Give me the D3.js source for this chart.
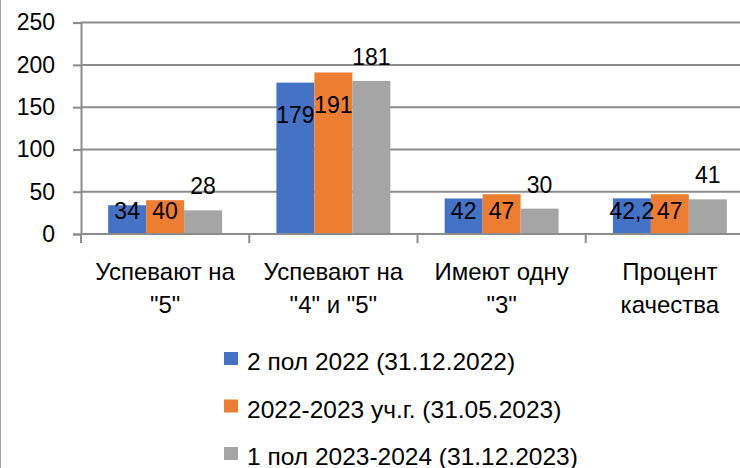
<!DOCTYPE html>
<html>
<head>
<meta charset="utf-8">
<script src="https://cdn.jsdelivr.net/npm/d3@7"></script>
<style>
  html, body { margin: 0; padding: 0; background: #fff; }
  svg text { font-family: "Liberation Sans", Arial, sans-serif; fill: #000; }
</style>
</head>
<body>
<svg id="chart" width="740" height="468"></svg>
<script>
// данные диаграммы
var categories = ['Успевают на\n"5"', 'Успевают на\n"4" и "5"', 'Имеют одну\n"3"', 'Процент\nкачества'];
var seriesNames = ['2 пол 2022 (31.12.2022)', '2022-2023 уч.г. (31.05.2023)', '1 пол 2023-2024 (31.12.2023)'];
var values2022 = [34, 179, 42, 42.2];
var values2023 = [40, 191, 47, 47];
var values2024 = [28, 181, 30, 41];
var yTicks = [0, 50, 100, 150, 200, 250];
var colors = ['#4472C4', '#ED7D31', '#A5A5A5'];

var allValues = [values2022, values2023, values2024];

var svg = d3.select('#chart');
// "top" занято window.top, поэтому другие имена
var plotLeft = 81, plotRight = 754, plotTop = 22.6, plotBottom = 234;
var gridColor = '#8c8c8c';
var fontSize = 23;

// рамка слева
svg.append('line')
  .attr('x1', 0.5).attr('x2', 0.5).attr('y1', 0).attr('y2', 468)
  .attr('stroke', '#a6a6a6').attr('stroke-width', 1);

var y = d3.scaleLinear().domain([0, 250]).range([plotBottom, plotTop]);

var x0 = d3.scaleBand().domain(categories).range([plotLeft, plotRight]).padding(0);
var x1 = d3.scaleBand().domain(d3.range(seriesNames.length))
  .range([0, x0.bandwidth()]).paddingInner(0).paddingOuter(0.715);

// линии сетки
svg.append('g').selectAll('line')
  .data(yTicks)
  .enter().append('line')
  .attr('x1', plotLeft).attr('x2', plotRight)
  .attr('y1', function(d) { return y(d); })
  .attr('y2', function(d) { return y(d); })
  .attr('stroke', gridColor).attr('stroke-width', 2);

// ось Y
var yAxis = svg.append('g')
  .attr('transform', 'translate(' + plotLeft + ',0)')
  .call(d3.axisLeft(y).tickValues(yTicks).tickSize(8).tickPadding(18));
yAxis.select('.domain').attr('stroke', gridColor).attr('stroke-width', 2);
yAxis.selectAll('.tick line').attr('stroke', gridColor).attr('stroke-width', 2);
yAxis.selectAll('.tick text')
  .style('font-size', fontSize + 'px')
  .style('font-family', '"Liberation Sans", Arial, sans-serif')
  .attr('fill', '#000');

// столбцы
var groups = svg.append('g').selectAll('g')
  .data(categories)
  .enter().append('g')
  .attr('transform', function(d) { return 'translate(' + x0(d) + ',0)'; });

groups.selectAll('rect')
  .data(function(d, i) { return allValues.map(function(s, k) { return {k: k, v: s[i]}; }); })
  .enter().append('rect')
  .attr('x', function(d) { return x1(d.k); })
  .attr('width', x1.bandwidth())
  .attr('y', function(d) { return y(d.v); })
  .attr('height', function(d) { return plotBottom - y(d.v); })
  .attr('fill', function(d) { return colors[d.k]; });

// ось X (линия и деления)
svg.append('line')
  .attr('x1', plotLeft).attr('x2', plotRight).attr('y1', plotBottom).attr('y2', plotBottom)
  .attr('stroke', gridColor).attr('stroke-width', 2);
var bounds = categories.map(function(c) { return x0(c); }).concat([plotRight]);
svg.append('g').selectAll('line')
  .data(bounds)
  .enter().append('line')
  .attr('x1', function(d) { return d; }).attr('x2', function(d) { return d; })
  .attr('y1', plotBottom).attr('y2', plotBottom + 9)
  .attr('stroke', gridColor).attr('stroke-width', 2);

// подписи данных
var fmt = function(v) { return String(v).replace('.', ','); };
groups.selectAll('text.lbl')
  .data(function(d, i) { return allValues.map(function(s, k) { return {k: k, v: s[i]}; }); })
  .enter().append('text')
  .attr('class', 'lbl')
  .attr('x', function(d) { return x1(d.k) + x1.bandwidth() / 2; })
  .attr('y', function(d) {
    if (d.k === 2) return y(d.v) - 24;
    return Math.min(y(d.v) + 32.5, y(27));
  })
  .attr('text-anchor', 'middle')
  .attr('dominant-baseline', 'central')
  .style('font-size', fontSize + 'px')
  .text(function(d) { return fmt(d.v); });

// подписи категорий
var catLabels = svg.append('g').selectAll('text')
  .data(categories)
  .enter().append('text')
  .attr('text-anchor', 'middle')
  .style('font-size', '24px');
catLabels.each(function(d) {
  var t = d3.select(this);
  var cx = x0(d) + x0.bandwidth() / 2;
  d.split('\n').forEach(function(line, i) {
    t.append('tspan').attr('x', cx).attr('y', 280 + i * 33).text(line);
  });
});

// легенда
var legend = svg.append('g').selectAll('g')
  .data(seriesNames)
  .enter().append('g')
  .attr('transform', function(d, i) { return 'translate(224,' + (352 + i * 47.5) + ')'; });
legend.append('rect')
  .attr('width', 14).attr('height', 13)
  .attr('fill', function(d, i) { return colors[i]; });
legend.append('text')
  .attr('x', 23).attr('y', 18)
  .style('font-size', '24.5px')
  .text(function(d) { return d; });
</script>
</body>
</html>
